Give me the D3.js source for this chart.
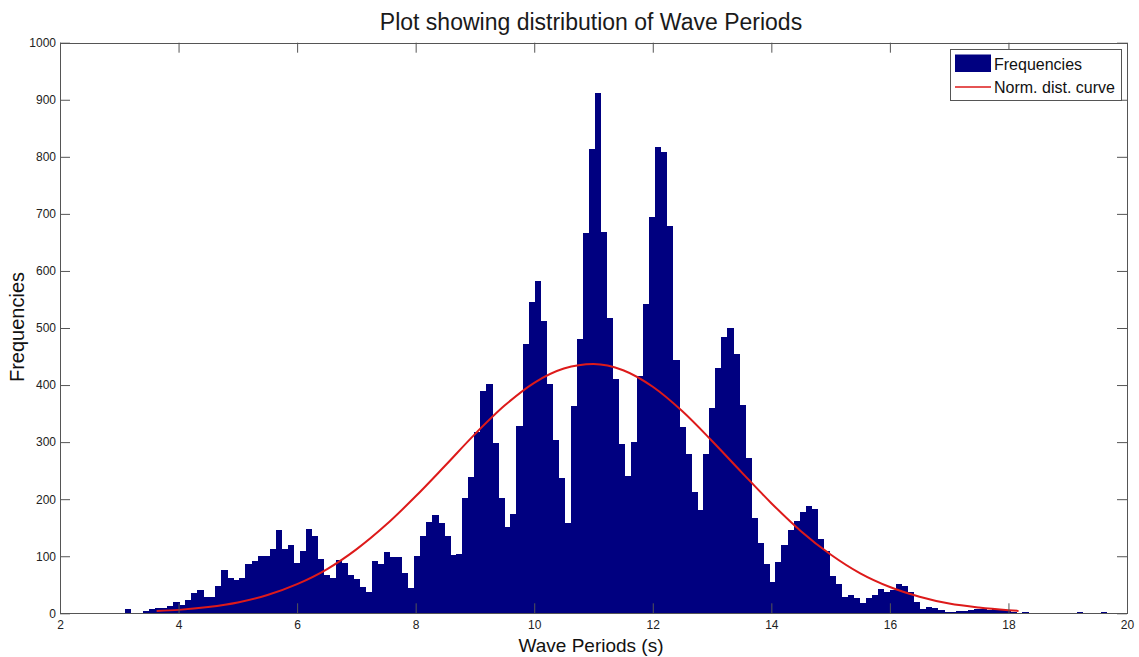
<!DOCTYPE html>
<html>
<head>
<meta charset="utf-8">
<script src="https://cdn.jsdelivr.net/npm/d3@7"></script>
<style>
  html, body { margin: 0; padding: 0; background: #fff; }
  svg { display: block; font-family: "Liberation Sans", Arial, Helvetica, sans-serif; }
</style>
</head>
<body>
<svg id="chart" width="1139" height="657"></svg>
<script>
// ---------- data ----------
const binStart = 3.097;      // left edge of first histogram bin (s)
const binWidth = 0.1016;     // bin width (s)
const frequencies = [
  7.5, 1, 1, 3.5, 7, 9, 10, 12, 19, 14,
  24, 36, 41, 29, 29, 48, 76, 61, 58, 61,
  86, 92, 100, 100, 113, 146, 112, 120, 89, 110,
  147, 136, 96, 67, 61, 93, 89, 67, 60, 46,
  38, 92, 86, 108, 99, 99, 70, 44, 101, 136,
  160, 172, 158, 136, 102, 104, 202, 239, 318, 390,
  401, 299, 202, 152, 174, 329, 472, 545, 583, 513,
  402, 304, 237, 159, 364, 480, 667, 814, 911, 669,
  517, 410, 297, 240, 301, 416, 542, 695, 818, 809,
  678, 444, 327, 280, 213, 181, 280, 360, 430, 485,
  500, 455, 365, 272, 167, 123, 86, 55, 90, 120,
  146, 162, 178, 188, 182, 131, 110, 65, 51, 29,
  32, 26, 17.5, 26, 32, 42, 38, 40, 51, 47,
  38, 19, 7, 10.5, 9, 6, 3, 3, 4, 4,
  6, 7, 7, 6, 7, 6, 5, 2, 0, 2,
  0, 0, 0, 0, 0, 0, 0, 0, 1.5, 0,
  0, 0, 1.5
];
const curveX = [3.63, 4.0, 4.5, 5.0, 5.5, 6.0, 6.5, 7.0, 7.5, 8.0, 8.5, 9.0, 9.5, 10.0, 10.5, 11.0,
                11.5, 12.0, 12.5, 13.0, 13.5, 14.0, 14.5, 15.0, 15.5, 16.0, 16.5, 17.0, 17.5, 18.0, 18.17];
const curveY = [4, 6, 11, 19, 32, 51, 77, 112, 155, 205, 259, 314, 364, 404, 429, 437,
                426, 397, 354, 302, 247, 193, 144, 103, 70, 46, 29, 17, 10, 5.4, 4.2];
const xTicks = [2, 4, 6, 8, 10, 12, 14, 16, 18, 20];
const yTicks = [0, 100, 200, 300, 400, 500, 600, 700, 800, 900, 1000];
const titleText = "Plot showing distribution of Wave Periods";
const xLabel = "Wave Periods (s)";
const yLabel = "Frequencies";
const legendLabels = ["Frequencies", "Norm. dist. curve"];

// ---------- layout ----------
const svg = d3.select("#chart");
const plotL = 60, plotR = 1127, plotT = 42.7, plotB = 613.3;
const x = d3.scaleLinear().domain([2, 20]).range([plotL, plotR]);
const y = d3.scaleLinear().domain([0, 1000]).range([plotB, plotT]);
const axisColor = "#555";
const barColor = "#000080";
const lineColor = "#dd1a1a";

// bars
svg.append("g").selectAll("rect")
  .data(frequencies)
  .join("rect")
  .attr("x", (d, i) => x(binStart + i * binWidth))
  .attr("width", (d, i) => x(binStart + (i + 1) * binWidth) - x(binStart + i * binWidth) + 0.4)
  .attr("y", d => y(d))
  .attr("height", d => y(0) - y(d))
  .attr("fill", barColor)
  .attr("shape-rendering", "crispEdges");

// normal curve
const line = d3.line().x(d => x(d[0])).y(d => y(d[1])).curve(d3.curveMonotoneX);
svg.append("path")
  .datum(curveX.map((v, i) => [v, curveY[i]]))
  .attr("d", line)
  .attr("fill", "none")
  .attr("stroke", lineColor)
  .attr("stroke-width", 2);

// axes
function styleAxis(g) {
  g.selectAll("path, line").attr("stroke", axisColor).attr("stroke-width", 1);
  g.selectAll("text").attr("fill", "#222").style("font-size", "12px");
}
svg.append("g").attr("transform", `translate(0,${plotB})`)
  .call(d3.axisBottom(x).tickValues(xTicks).tickSizeInner(-10).tickSizeOuter(0).tickPadding(7).tickFormat(d3.format("d")))
  .call(styleAxis);
svg.append("g").attr("transform", `translate(0,${plotT})`)
  .call(d3.axisTop(x).tickValues(xTicks).tickSizeInner(-10).tickSizeOuter(0).tickFormat(""))
  .call(styleAxis);
svg.append("g").attr("transform", `translate(${plotL},0)`)
  .call(d3.axisLeft(y).tickValues(yTicks).tickSizeInner(-10).tickSizeOuter(0).tickPadding(4).tickFormat(d3.format("d")))
  .call(styleAxis);
svg.append("g").attr("transform", `translate(${plotR},0)`)
  .call(d3.axisRight(y).tickValues(yTicks).tickSizeInner(-10).tickSizeOuter(0).tickFormat(""))
  .call(styleAxis);
svg.selectAll(".domain").attr("shape-rendering", "crispEdges");

// title and labels
svg.append("text").attr("x", 591).attr("y", 30)
  .attr("text-anchor", "middle").style("font-size", "23px").attr("fill", "#1a1a1a").text(titleText);
svg.append("text").attr("x", 591).attr("y", 652)
  .attr("text-anchor", "middle").style("font-size", "19px").attr("fill", "#111").text(xLabel);
svg.append("text").attr("transform", `translate(24,327) rotate(-90)`)
  .attr("text-anchor", "middle").style("font-size", "20px").attr("fill", "#111").text(yLabel);

// legend
const lg = svg.append("g");
lg.append("rect").attr("x", 950).attr("y", 49.5).attr("width", 171).attr("height", 51)
  .attr("fill", "#fff").attr("stroke", axisColor).attr("stroke-width", 1).attr("shape-rendering", "crispEdges");
lg.append("rect").attr("x", 955).attr("y", 54.5).attr("width", 36).attr("height", 17.5).attr("fill", barColor);
lg.append("line").attr("x1", 955).attr("x2", 991).attr("y1", 87).attr("y2", 87)
  .attr("stroke", lineColor).attr("stroke-width", 1.5);
lg.selectAll("text.leg").data(legendLabels).join("text").attr("class", "leg")
  .attr("x", 994).attr("y", (d, i) => 64 + i * 23).attr("dy", "0.35em")
  .style("font-size", "16px").attr("fill", "#111").text(d => d);
</script>
</body>
</html>
